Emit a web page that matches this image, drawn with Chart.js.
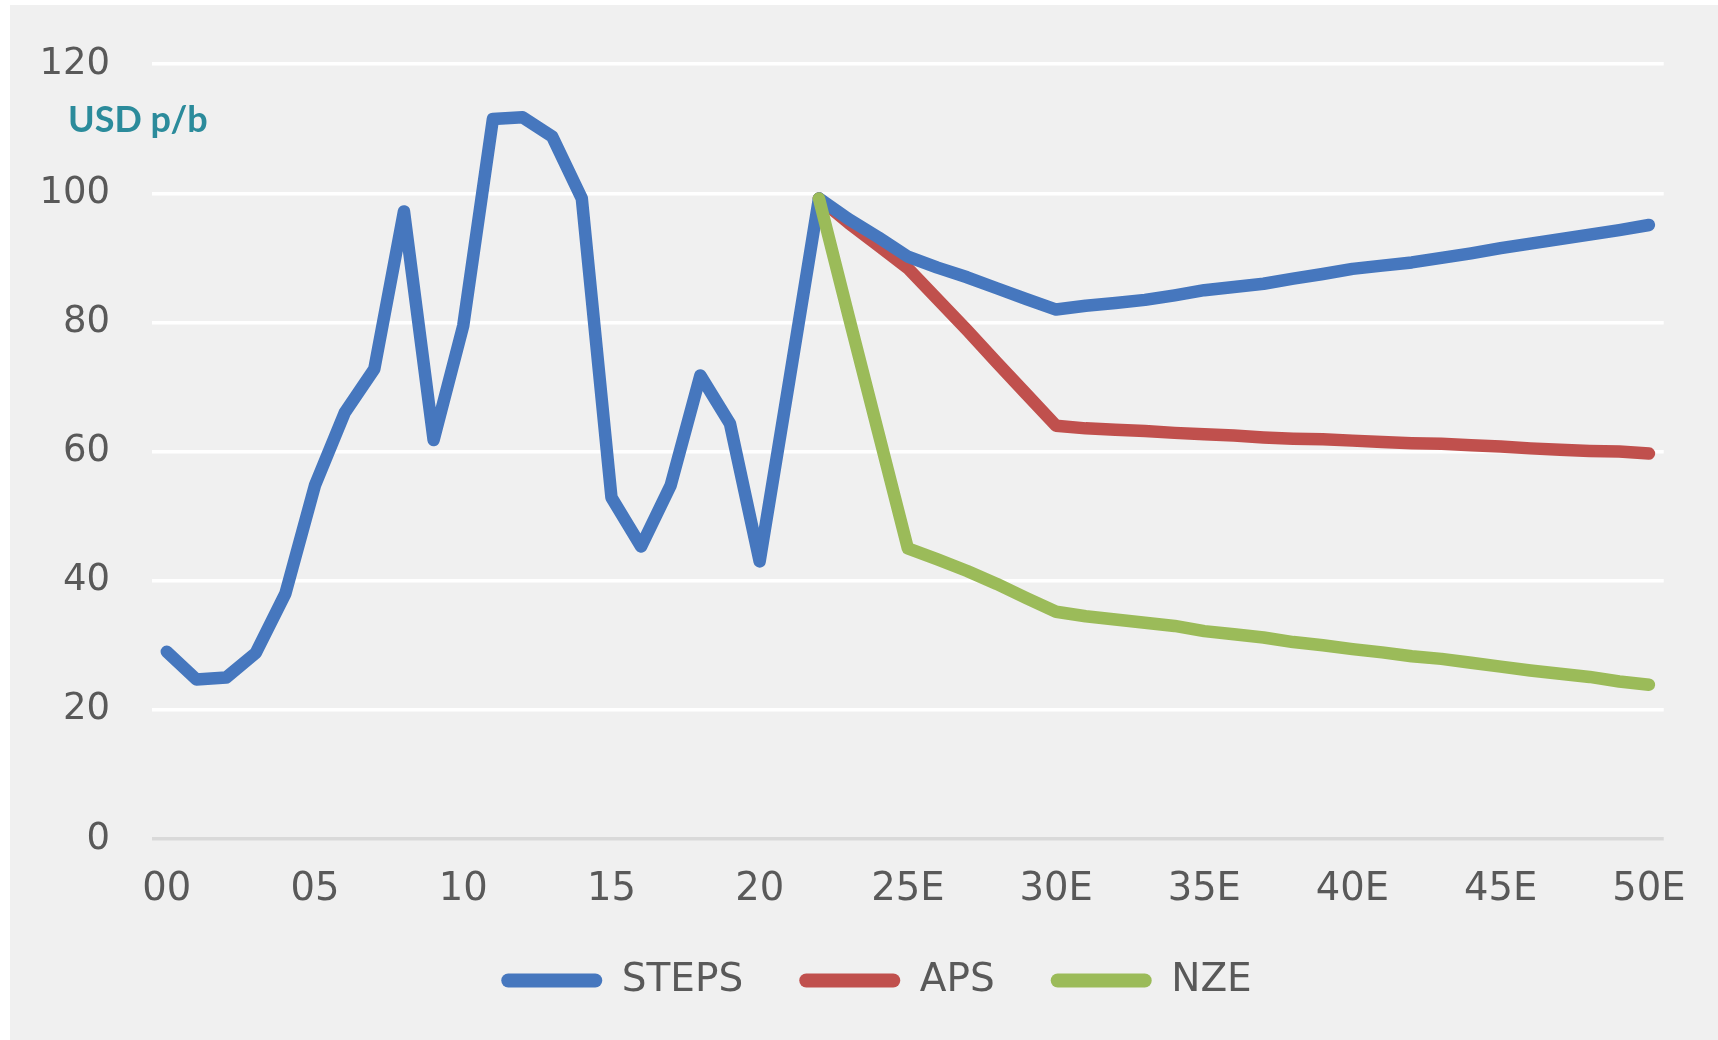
<!DOCTYPE html>
<html>
<head>
<meta charset="utf-8">
<script src="https://cdn.jsdelivr.net/npm/chart.js@4/dist/chart.umd.min.js"></script>
<style>
  html, body { margin: 0; padding: 0; background: #ffffff; }
  #wrap { position: relative; width: 1718px; height: 1040px; }
  canvas { display: block; }
</style>
</head>
<body>
<div id="wrap"><canvas id="oil" width="1718" height="1040"></canvas></div>
<script>
// Year labels 2000–2050 (E = estimate)
const categories = [
  '00','01','02','03','04','05','06','07','08','09',
  '10','11','12','13','14','15','16','17','18','19',
  '20','21','22','23E','24E','25E','26E','27E','28E','29E',
  '30E','31E','32E','33E','34E','35E','36E','37E','38E','39E',
  '40E','41E','42E','43E','44E','45E','46E','47E','48E','49E','50E'
];

// Oil price, USD per barrel
const steps = [
  29, 24.7, 25, 28.8, 38, 54.8, 66, 72.8, 97.2, 61.8,
  79.5, 111.5, 111.8, 108.8, 99.2, 52.9, 45.3, 54.8, 71.8, 64.3,
  43, 71, 99.2, 96, 93.2, 90.2, 88.5, 87, 85.3, 83.6,
  82, 82.6, 83, 83.5, 84.2, 85, 85.5, 86, 86.8, 87.5,
  88.3, 88.8, 89.3, 90, 90.7, 91.5, 92.2, 92.9, 93.6, 94.3, 95.1
];
const aps = [
  null, null, null, null, null, null, null, null, null, null,
  null, null, null, null, null, null, null, null, null, null,
  null, null, 99.2, 95.4, 91.9, 88.4, 83.6, 78.8, 73.8, 68.9,
  64, 63.6, 63.4, 63.2, 62.9, 62.7, 62.5, 62.2, 62, 61.9,
  61.7, 61.5, 61.3, 61.2, 61, 60.8, 60.5, 60.3, 60.1, 60, 59.7
];
const nze = [
  null, null, null, null, null, null, null, null, null, null,
  null, null, null, null, null, null, null, null, null, null,
  null, null, 99.2, 81, 63, 45, 43.3, 41.5, 39.5, 37.3,
  35.2, 34.5, 34, 33.5, 33, 32.2, 31.7, 31.2, 30.5, 30,
  29.4, 28.9, 28.3, 27.9, 27.3, 26.7, 26.1, 25.6, 25.1, 24.4, 23.9
];
const yTicks = [0, 20, 40, 60, 80, 100, 120];

const TEXT = '#595959';
const FONT = 'DejaVu Sans';

// Panel background, unit caption and legend placement
const panel = {
  id: 'panel',
  afterLayout(chart) {
    const lg = chart.legend;
    if (lg) { lg.left += 24; lg.right += 24; }
  },
  beforeDraw(chart) {
    const c = chart.ctx;
    c.save();
    c.fillStyle = '#ffffff';
    c.fillRect(0, 0, chart.width, chart.height);
    c.fillStyle = '#f0f0f0';
    c.fillRect(10, 5, chart.width - 10, chart.height - 5);
    c.restore();
  },
  afterDraw(chart) {
    const c = chart.ctx;
    c.save();
    c.fillStyle = '#2b8b9b';
    c.font = 'bold 36px Lato';
    c.textBaseline = 'alphabetic';
    c.textAlign = 'left';
    c.fillText('USD p/b', 68, 132);
    c.restore();
  }
};

const lineStyle = {
  borderWidth: 12.5,
  pointRadius: 0,
  pointHoverRadius: 0,
  tension: 0,
  borderCapStyle: 'round',
  borderJoinStyle: 'round',
  fill: false,
  spanGaps: false
};

new Chart(document.getElementById('oil'), {
  type: 'line',
  data: {
    labels: categories,
    datasets: [
      Object.assign({ label: 'STEPS', data: steps, borderColor: '#4677be', backgroundColor: '#4677be', order: 1 }, lineStyle),
      Object.assign({ label: 'APS', data: aps, borderColor: '#c0504d', backgroundColor: '#c0504d', order: 2 }, lineStyle),
      Object.assign({ label: 'NZE', data: nze, borderColor: '#9bbb59', backgroundColor: '#9bbb59', order: 0 }, lineStyle)
    ]
  },
  options: {
    responsive: false,
    devicePixelRatio: 1,
    animation: false,
    layout: { padding: { left: 30, right: 43, top: 58, bottom: 30 } },
    scales: {
      x: {
        offset: true,
        grid: { display: false, drawTicks: false },
        border: { display: false },
        ticks: {
          autoSkip: false,
          maxRotation: 0,
          minRotation: 0,
          padding: 32,
          color: TEXT,
          font: { family: FONT, size: 38.5, lineHeight: 1 },
          callback: function (value, index) {
            return index % 5 === 0 ? categories[index] : '';
          }
        },
        afterFit(scale) { scale.height = 66; }
      },
      y: {
        min: 0,
        max: 120,
        afterBuildTicks(scale) { scale.ticks = yTicks.map(v => ({ value: v })); },
        grid: {
          drawTicks: false,
          lineWidth: 3.5,
          color: ctx => (ctx.tick && ctx.tick.value === 0 ? '#d9d9d9' : '#ffffff')
        },
        border: { display: false },
        ticks: {
          padding: 42,
          color: TEXT,
          font: { family: FONT, size: 37 }
        },
        afterFit(scale) { scale.width = 122; }
      }
    },
    plugins: {
      legend: {
        position: 'bottom',
        labels: {
          boxWidth: 101,
          boxHeight: 14,
          useBorderRadius: true,
          borderRadius: 7,
          padding: 56,
          color: TEXT,
          font: { family: FONT, size: 39 },
          generateLabels: chart =>
            Chart.defaults.plugins.legend.labels.generateLabels(chart)
              .map(item => Object.assign(item, { lineWidth: 0 })),
          sort: (a, b) => a.datasetIndex - b.datasetIndex
        }
      },
      tooltip: { enabled: false }
    }
  },
  plugins: [panel]
});
</script>
</body>
</html>
